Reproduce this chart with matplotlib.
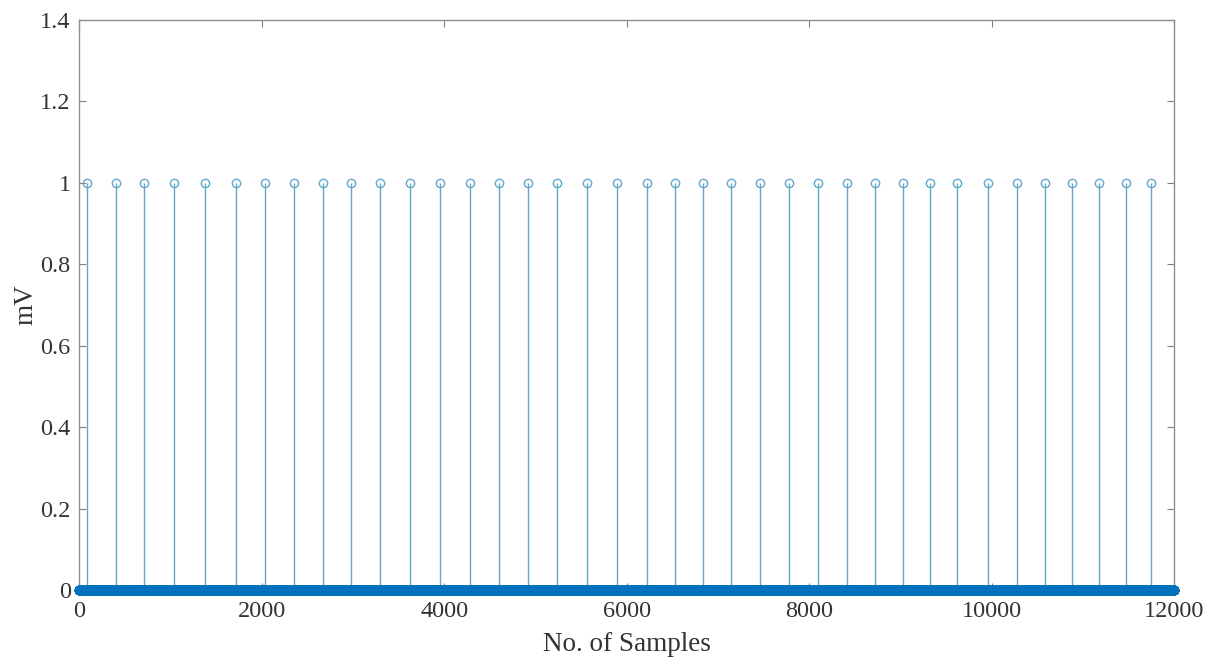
import matplotlib
matplotlib.use("Agg")
import matplotlib.pyplot as plt
import numpy as np

plt.rcParams["font.family"] = ["Liberation Serif", "DejaVu Serif"]

# detected peak locations (sample index) and record length
N_SAMPLES = 12000
PEAK_SAMPLES = [
    88, 405, 711, 1039, 1378, 1717, 2035, 2352, 2669, 2975,
    3303, 3631, 3959, 4288, 4605, 4923, 5240, 5568, 5896, 6224,
    6530, 6837, 7143, 7460, 7778, 8095, 8412, 8718, 9025, 9320,
    9615, 9954, 10272, 10578, 10884, 11180, 11475, 11749,
]
PEAK_VALUE = 1.0

X_TICKS = [0, 2000, 4000, 6000, 8000, 10000, 12000]
Y_TICKS = [0, 0.2, 0.4, 0.6, 0.8, 1.0, 1.2, 1.4]
Y_TICK_LABELS = ["0", "0.2", "0.4", "0.6", "0.8", "1", "1.2", "1.4"]

samples = np.arange(N_SAMPLES)
signal = np.zeros(N_SAMPLES)
signal[PEAK_SAMPLES] = PEAK_VALUE
is_peak = signal > 0

fig = plt.figure(figsize=(12.15, 6.6), dpi=100)
ax = fig.add_axes([0.065, 0.106, 0.9015, 0.864])

# zero-valued samples: dense open circles merge into a thick band
ax.plot(
    samples[~is_peak], signal[~is_peak],
    linestyle="none", marker="o", markersize=6.0,
    markerfacecolor="none", markeredgecolor="#0072BD",
    markeredgewidth=1.0, zorder=3, clip_on=False,
)

# peak samples as stems
ax.vlines(samples[is_peak], 0, signal[is_peak], color="#62a8cc", linewidth=1.0, zorder=2)
ax.plot(
    samples[is_peak], signal[is_peak],
    linestyle="none", marker="o", markersize=6.0,
    markerfacecolor="none", markeredgecolor="#62a8cc",
    markeredgewidth=1.0, zorder=2,
)

ax.set_xlim(0, 12000)
ax.set_ylim(0, 1.4)
ax.set_xticks(X_TICKS)
ax.set_xticklabels([str(t) for t in X_TICKS])
ax.set_yticks(Y_TICKS)
ax.set_yticklabels(Y_TICK_LABELS)

ax.tick_params(direction="in", length=5, width=0.8, colors="#808080",
               labelcolor="#333333", labelsize=17.5, top=True, right=True)
ax.tick_params(axis="x", pad=8)
ax.tick_params(axis="y", pad=6)
for spine in ax.spines.values():
    spine.set_color("#909090")
    spine.set_linewidth(1.0)

ax.set_xlabel("No. of Samples", fontsize=19.5, color="#333333", labelpad=7)
ax.set_ylabel("mV", fontsize=19.5, color="#333333", labelpad=1)

fig.savefig("out.png", dpi=100)
